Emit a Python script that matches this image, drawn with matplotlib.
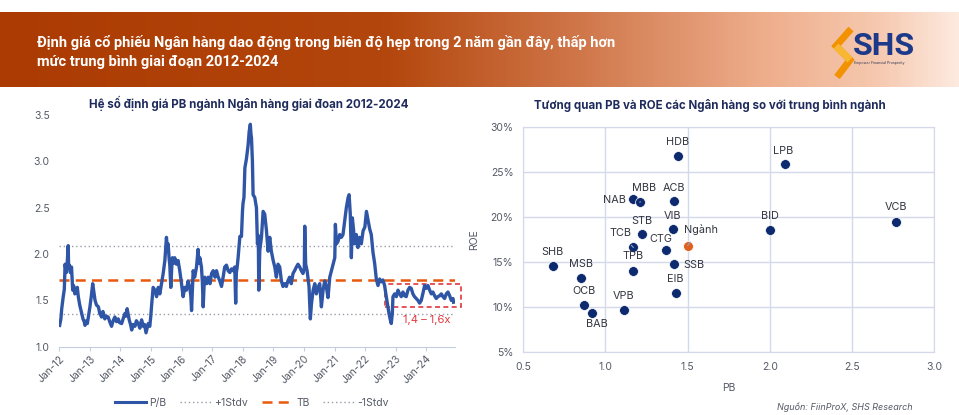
import numpy as np
import pandas as pd
import matplotlib
matplotlib.use("Agg")
import matplotlib.pyplot as plt
import matplotlib.dates as mdates
from matplotlib.colors import LinearSegmentedColormap
from matplotlib.patches import Rectangle
from matplotlib.lines import Line2D
from matplotlib.ticker import FuncFormatter, MultipleLocator

plt.rcParams['font.family'] = ['Inter', 'DejaVu Sans']

# ---- du lieu: P/B nganh ngan hang (doc tu hinh) ----
pb_dates = [
    "2012-01-05", "2012-01-20", "2012-01-30", "2012-02-17", "2012-03-01", "2012-03-10", "2012-03-25",
    "2012-04-05", "2012-04-16", "2012-04-22", "2012-04-30", "2012-05-12", "2012-05-26", "2012-06-09",
    "2012-06-20", "2012-07-05", "2012-07-20", "2012-08-03", "2012-08-15", "2012-09-01", "2012-09-24",
    "2012-10-10", "2012-10-25", "2012-11-03", "2012-11-20", "2012-12-01", "2012-12-13",
    "2013-01-01", "2013-01-18", "2013-02-03", "2013-02-15", "2013-03-03", "2013-03-20", "2013-04-12",
    "2013-04-28", "2013-05-20", "2013-06-05", "2013-06-28", "2013-07-15", "2013-08-07", "2013-08-25",
    "2013-09-16", "2013-10-05", "2013-10-26", "2013-11-15", "2013-12-05", "2013-12-20",
    "2014-01-15", "2014-02-01", "2014-02-24", "2014-03-10", "2014-03-21", "2014-04-15", "2014-05-01",
    "2014-05-15", "2014-06-01", "2014-06-23", "2014-07-10", "2014-08-01", "2014-08-20", "2014-09-10",
    "2014-09-30", "2014-10-15", "2014-11-02", "2014-11-15", "2014-11-28", "2014-12-17", "2014-12-28",
    "2015-01-08", "2015-01-26", "2015-02-17", "2015-03-08", "2015-03-28", "2015-04-16", "2015-05-06",
    "2015-05-26", "2015-06-15", "2015-07-04", "2015-07-15", "2015-07-24", "2015-08-05", "2015-08-13",
    "2015-08-25", "2015-09-05", "2015-09-13", "2015-09-28", "2015-10-11", "2015-10-31", "2015-11-20",
    "2015-12-10", "2015-12-31",
    "2016-01-19", "2016-02-08", "2016-02-27", "2016-03-19", "2016-04-07", "2016-04-20", "2016-04-29",
    "2016-05-10", "2016-05-18", "2016-06-05", "2016-06-27", "2016-07-16", "2016-07-25", "2016-08-06",
    "2016-08-25", "2016-09-05", "2016-09-15", "2016-09-25", "2016-10-04", "2016-10-26", "2016-11-14",
    "2016-12-05", "2016-12-24",
    "2017-01-12", "2017-02-03", "2017-02-21", "2017-03-10", "2017-04-01", "2017-04-22", "2017-05-11",
    "2017-05-30", "2017-06-20", "2017-07-10", "2017-07-30", "2017-08-20", "2017-09-08", "2017-09-27",
    "2017-10-08", "2017-10-16", "2017-10-26", "2017-11-06", "2017-11-27", "2017-12-16", "2017-12-28",
    "2018-01-04", "2018-01-15", "2018-01-26", "2018-02-14", "2018-03-06", "2018-03-18", "2018-04-01",
    "2018-04-08", "2018-04-15", "2018-04-26", "2018-05-04", "2018-05-24", "2018-06-13", "2018-06-25",
    "2018-07-05", "2018-07-11", "2018-07-23", "2018-08-12", "2018-09-01", "2018-09-20", "2018-10-11",
    "2018-10-30", "2018-11-19", "2018-12-08", "2018-12-30",
    "2019-01-18", "2019-02-06", "2019-02-26", "2019-03-18", "2019-04-07", "2019-04-26", "2019-05-17",
    "2019-06-05", "2019-06-24", "2019-07-14", "2019-08-03", "2019-08-24", "2019-09-12", "2019-10-03",
    "2019-10-22", "2019-11-12", "2019-12-01", "2019-12-21",
    "2020-01-06", "2020-01-11", "2020-01-22", "2020-02-08", "2020-03-02", "2020-03-18", "2020-03-31",
    "2020-04-20", "2020-05-10", "2020-05-29", "2020-06-18", "2020-07-08", "2020-07-28", "2020-08-17",
    "2020-09-06", "2020-09-26", "2020-10-15", "2020-11-05", "2020-11-25", "2020-12-15",
    "2021-01-04", "2021-01-11", "2021-01-24", "2021-02-13", "2021-03-04", "2021-03-24", "2021-04-12",
    "2021-05-03", "2021-05-22", "2021-06-12", "2021-06-24", "2021-07-08", "2021-07-21", "2021-08-02",
    "2021-08-17", "2021-08-28", "2021-09-18", "2021-10-07", "2021-10-28", "2021-11-17", "2021-12-08",
    "2021-12-29",
    "2022-01-17", "2022-02-06", "2022-02-25", "2022-03-16", "2022-04-05", "2022-04-25", "2022-05-15",
    "2022-06-04", "2022-06-24", "2022-07-14", "2022-08-03", "2022-08-22", "2022-09-11", "2022-10-01",
    "2022-10-13", "2022-10-29", "2022-11-10", "2022-11-22", "2022-11-30", "2022-12-20",
    "2023-01-09", "2023-01-29", "2023-02-17", "2023-03-09", "2023-03-29", "2023-04-17", "2023-05-07",
    "2023-05-28", "2023-06-17", "2023-07-06", "2023-07-26", "2023-08-14", "2023-09-04", "2023-09-24",
    "2023-10-14", "2023-11-03", "2023-11-24", "2023-12-13",
    "2024-01-02", "2024-01-22", "2024-02-11", "2024-03-02", "2024-03-21", "2024-04-10", "2024-04-30",
    "2024-05-20", "2024-06-09", "2024-06-30", "2024-07-19", "2024-08-08", "2024-08-28", "2024-09-17",
    "2024-10-07", "2024-10-27", "2024-11-16", "2024-11-23",
]
pb_values = [
    1.23, 1.30, 1.41, 1.54, 1.62, 1.89, 1.80,
    1.91, 2.09, 1.85, 1.88, 1.80, 1.86, 1.61,
    1.66, 1.57, 1.60, 1.64, 1.54, 1.45, 1.36,
    1.30, 1.27, 1.23, 1.28, 1.25, 1.32,
    1.43, 1.55, 1.68, 1.60, 1.50, 1.45, 1.43,
    1.36, 1.32, 1.38, 1.30, 1.33, 1.32, 1.27,
    1.22, 1.28, 1.32, 1.27, 1.30, 1.26,
    1.25, 1.30, 1.36, 1.33, 1.41, 1.29, 1.24,
    1.18, 1.24, 1.22, 1.28, 1.25, 1.20, 1.29,
    1.22, 1.24, 1.15, 1.20, 1.25, 1.22, 1.32,
    1.45, 1.64, 1.61, 1.54, 1.64, 1.57, 1.68,
    1.79, 1.93, 2.18, 2.05, 2.11, 1.95, 1.88,
    1.64, 1.85, 1.96, 1.90, 1.96, 1.89, 1.93,
    1.82, 1.68,
    1.54, 1.64, 1.61, 1.71, 1.64, 1.55, 1.39,
    1.65, 1.82, 1.75, 1.86, 2.05, 1.90, 1.96,
    1.86, 1.70, 1.43, 1.65, 1.75, 1.68, 1.75,
    1.68, 1.79,
    1.82, 1.75, 1.82, 1.76, 1.71, 1.65, 1.75,
    1.86, 1.88, 1.82, 1.80, 1.84, 1.82, 1.86,
    1.47, 1.80, 1.86, 1.96, 2.19, 2.19, 2.46,
    2.55, 2.61, 2.93, 3.03, 3.18, 3.32, 3.40,
    3.30, 3.25, 3.00, 2.64, 2.61, 2.50, 2.11,
    2.20, 1.61, 2.04, 2.18, 2.46, 2.43, 2.25,
    2.03, 2.18, 2.03, 1.93,
    1.86, 1.75, 1.89, 1.86, 1.71, 1.65, 1.68,
    1.65, 1.71, 1.75, 1.68, 1.79, 1.82, 1.86,
    1.89, 1.86, 1.82, 1.79,
    1.85, 2.30, 1.89, 1.82, 1.65, 1.30, 1.46,
    1.61, 1.68, 1.57, 1.64, 1.68, 1.43, 1.61,
    1.71, 1.64, 1.53, 1.75, 1.82, 1.89,
    1.96, 2.32, 2.11, 2.14, 2.21, 2.18, 2.21,
    2.36, 2.50, 2.61, 2.64, 2.43, 1.96, 2.39,
    2.25, 2.11, 2.21, 2.07, 2.18, 2.11, 2.25,
    2.29,
    2.46, 2.36, 2.27, 2.21, 2.02, 1.90, 1.73,
    1.66, 1.73, 1.70, 1.72, 1.66, 1.54, 1.43,
    1.36, 1.29, 1.25, 1.36, 1.54, 1.57,
    1.54, 1.61, 1.57, 1.54, 1.59, 1.55, 1.54,
    1.61, 1.64, 1.63, 1.57, 1.54, 1.52, 1.50,
    1.47, 1.50, 1.58, 1.66,
    1.63, 1.66, 1.61, 1.57, 1.59, 1.55, 1.52,
    1.54, 1.55, 1.57, 1.54, 1.52, 1.57, 1.59,
    1.55, 1.50, 1.52, 1.48,
]
pb_mean = 1.72
pb_std = 0.365
band_low, band_high = 1.43, 1.68

# ---- du lieu: PB va ROE cac ngan hang ----
banks = ["HDB", "LPB", "NAB", "MBB", "ACB", "VIB", "BID", "VCB", "STB", "TCB", "CTG",
         "SHB", "MSB", "TPB", "SSB", "EIB", "OCB", "BAB", "VPB"]
bank_pb = [1.44, 2.09, 1.17, 1.21, 1.42, 1.41, 2.00, 2.77, 1.22, 1.17, 1.37,
           0.68, 0.85, 1.17, 1.42, 1.43, 0.87, 0.92, 1.11]
bank_roe = [26.8, 25.9, 22.0, 21.6, 21.7, 18.6, 18.5, 19.4, 18.1, 16.6, 16.3,
            14.5, 13.2, 14.0, 14.8, 11.6, 10.2, 9.3, 9.7]
sector_name = "Ngành"
sector_pb = 1.50
sector_roe = 16.8

# vi tri nhan (pixel so voi diem), can le, co duong dan hay khong
label_pos = {
    "HDB": (0, 14, "center", False), "LPB": (-1, 13, "center", False),
    "NAB": (-7, -1, "right", False), "MBB": (4, 14, "center", True),
    "ACB": (0, 13, "center", False), "VIB": (0, 13, "center", False),
    "BID": (0, 14, "center", False), "VCB": (0, 15, "center", False),
    "STB": (0, 13, "center", False), "TCB": (-13, 14, "center", True),
    "CTG": (-5, 11, "center", False), "SHB": (0, 14, "center", False),
    "MSB": (0, 14, "center", False), "TPB": (0, 15, "center", False),
    "SSB": (9, -1, "left", False), "EIB": (-1, 14, "center", False),
    "OCB": (0, 14, "center", False), "BAB": (5, -11, "center", False),
    "VPB": (0, 14, "center", False),
}

W, H = 959, 415
def fx(px):
    return px / W
def fy(py):
    return 1 - py / H

navy = "#0d2a6e"
blue = "#2f56a6"
orange = "#e8590c"
gray_txt = "#555a66"
title_col = "#1f2b5c"
grid_col = "#d3d9ea"

fig = plt.figure(figsize=(W / 100, H / 100), dpi=100)

# ---- banner ----
axb = fig.add_axes([0, fy(87), 1, (87 - 12) / H])
cmap = LinearSegmentedColormap.from_list("bn", [
    (0.0, "#ab3b02"), (0.40, "#b3460c"), (0.60, "#cf7548"),
    (0.80, "#eeae8c"), (0.92, "#f6c9b0"), (1.0, "#fde9de")])
axb.imshow(np.linspace(0, 1, 400)[None, :], cmap=cmap, aspect="auto",
           extent=[0, W, 87, 12])
axb.set_xlim(0, W)
axb.set_ylim(87, 12)
axb.axis("off")
# logo
axb.plot([851, 836, 850, 837], [29, 46, 60, 77], color="#f39200", lw=5,
         solid_joinstyle="miter", solid_capstyle="butt")
axb.plot([836, 850], [46, 60], color="#f7b733", lw=5, solid_capstyle="butt")
fig.text(fx(853), fy(46), "SHS", fontsize=23, fontweight="bold", color="#1d3a8a",
         va="center", ha="left", family=["Roboto", "DejaVu Sans"])
fig.text(fx(854), fy(63), "Empower Financial Prosperity", fontsize=2.6, color="#333a55",
         va="center", ha="left")

title_font = ["Roboto", "DejaVu Sans"]
fig.text(fx(37), fy(43), "Định giá cổ phiếu Ngân hàng dao động trong biên độ hẹp trong 2 năm gần đây, thấp hơn",
         fontsize=10.5, fontweight="bold", color="white", va="center", ha="left", family=title_font)
fig.text(fx(37), fy(62), "mức trung bình giai đoạn 2012-2024",
         fontsize=10.5, fontweight="bold", color="white", va="center", ha="left", family=title_font)

# ---- bieu do trai: P/B ----
axL = fig.add_axes([fx(59.3), fy(346.7), (455 - 59.3) / W, (346.7 - 115) / H])
dates = pd.to_datetime(pb_dates)
axL.axhline(pb_mean + pb_std, color="#9a9ca8", lw=1.0, ls=(0, (1, 2)))
axL.axhline(pb_mean - pb_std, color="#9a9ca8", lw=1.0, ls=(0, (1, 2)))
axL.axhline(pb_mean, color=orange, lw=1.8, ls=(0, (4, 2.5)))
axL.plot(dates, pb_values, color=blue, lw=2.4)
axL.set_xlim(pd.Timestamp("2012-01-01"), pd.Timestamp("2024-12-10"))
axL.set_ylim(1.0, 3.5)
axL.yaxis.set_major_locator(MultipleLocator(0.5))
axL.yaxis.set_major_formatter(FuncFormatter(lambda v, p: f"{v:.1f}"))
axL.xaxis.set_major_locator(mdates.YearLocator())
axL.xaxis.set_major_formatter(mdates.DateFormatter("%b-%y"))
for s in ["left", "top", "right"]:
    axL.spines[s].set_visible(False)
axL.spines["bottom"].set_color("#c5cde0")
axL.tick_params(axis="y", length=0, labelsize=7.5, labelcolor=gray_txt, pad=7)
axL.tick_params(axis="x", length=3, color="#c5cde0", labelsize=7.5, labelcolor=gray_txt, pad=2)
plt.setp(axL.get_xticklabels(), rotation=45, ha="right", rotation_mode="anchor")

x0 = mdates.date2num(pd.Timestamp("2022-09-01"))
x1 = mdates.date2num(pd.Timestamp("2025-02-20"))
axL.add_patch(Rectangle((x0, band_low), x1 - x0, band_high - band_low, fill=False,
                        ec="#e0383e", ls=(0, (3, 2)), lw=1.2, clip_on=False))
axL.text(pd.Timestamp("2024-01-07"), 1.29, "1,4 – 1,6x", color="#e0383e", fontsize=8,
         ha="center", va="center")

fig.text(fx(249), fy(103), "Hệ số định giá PB ngành Ngân hàng giai đoạn 2012-2024",
         fontsize=8.3, fontweight="bold", color=title_col, ha="center", va="center")

handles = [Line2D([], [], color=blue, lw=2.2),
           Line2D([], [], color="#9a9ca8", lw=1.0, ls=(0, (1, 2))),
           Line2D([], [], color=orange, lw=1.8, ls=(0, (4, 2.5))),
           Line2D([], [], color="#9a9ca8", lw=1.0, ls=(0, (1, 2)))]
fig.legend(handles, ["P/B", "+1Stdv", "TB", "-1Stdv"], loc="center",
           bbox_to_anchor=(fx(252), fy(403)), ncol=4, frameon=False, fontsize=7.5,
           handlelength=3, columnspacing=1.3, handletextpad=0.3, labelcolor=gray_txt)

# ---- bieu do phai: PB vs ROE ----
axR = fig.add_axes([fx(523.3), fy(352), (934 - 523.3) / W, (352 - 126.7) / H])
axR.set_xlim(0.5, 3.0)
axR.set_ylim(5, 30)
axR.xaxis.set_major_locator(MultipleLocator(0.5))
axR.yaxis.set_major_locator(MultipleLocator(5))
axR.xaxis.set_major_formatter(FuncFormatter(lambda v, p: f"{v:.1f}"))
axR.yaxis.set_major_formatter(FuncFormatter(lambda v, p: f"{v:.0f}%"))
axR.grid(True, color=grid_col, lw=1.0)
axR.set_axisbelow(True)
for s in axR.spines.values():
    s.set_color(grid_col)
axR.tick_params(length=0, labelsize=7.5, labelcolor=gray_txt, pad=7)
axR.set_xlabel("PB", fontsize=7.5, color=gray_txt, labelpad=8)
axR.set_ylabel("ROE", fontsize=7.5, color=gray_txt, labelpad=8)

axR.scatter(bank_pb, bank_roe, s=50, color=navy, edgecolor="white", lw=0.5, zorder=3)
axR.scatter([sector_pb], [sector_roe], s=50, color="#e0601c", edgecolor="white", lw=0.5, zorder=3)

lead_col = "#8fa3c8"
for name, xv, yv in zip(banks + [sector_name], bank_pb + [sector_pb], bank_roe + [sector_roe]):
    if name == sector_name:
        dx, dy, ha, lead = 13, 16, "center", True
    else:
        dx, dy, ha, lead = label_pos[name]
    arrow = dict(arrowstyle="-", color=lead_col, lw=0.8, shrinkA=4, shrinkB=4) if lead else None
    axR.annotate(name, (xv, yv), xytext=(dx, dy), textcoords="offset pixels",
                 ha=ha, va="center", fontsize=7.8, color="#333640",
                 arrowprops=arrow, zorder=4)

fig.text(fx(710), fy(106), "Tương quan PB và ROE các Ngân hàng so với trung bình ngành",
         fontsize=8.3, fontweight="bold", color=title_col, ha="center", va="center")

fig.text(fx(913), fy(407.5), "Nguồn: FiinProX, SHS Research", fontsize=6.5, style="italic",
         color="#555a66", ha="right", va="center")

fig.savefig("out.png", dpi=100)
